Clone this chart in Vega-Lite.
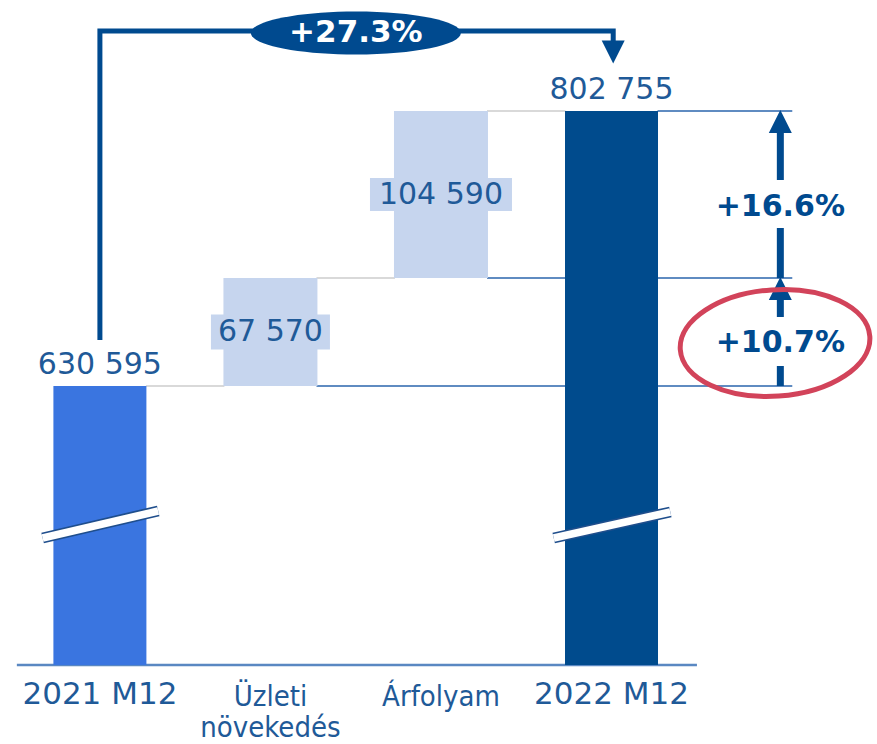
{
  "$schema": "https://vega.github.io/schema/vega-lite/v6.json",
  "width": 877,
  "height": 744,
  "autosize": {"type": "none"},
  "padding": 0,
  "background": "white",
  "config": {
    "view": {"stroke": null},
    "locale": {"number": {"decimal": ",", "thousands": " ", "grouping": [3], "currency": ["", ""]}},
    "text": {"font": "DejaVu Sans"}
  },
  "datasets": {
    "totals": [
      {"cat": "2021 M12", "i": 1, "v": 630595},
      {"cat": "2022 M12", "i": 4, "v": 802755}
    ],
    "deltas": [
      {"cat": "Üzleti\nnövekedés", "i": 2, "v": 630595, "v2": 698165, "delta": 67570},
      {"cat": "Árfolyam", "i": 3, "v": 698165, "v2": 802755, "delta": 104590}
    ],
    "links": [
      {"kind": "step", "i": 1.27, "i2": 1.73, "v": 630595},
      {"kind": "step", "i": 2.27, "i2": 2.73, "v": 698165},
      {"kind": "step", "i": 3.27, "i2": 3.73, "v": 802755},
      {"kind": "ref", "i": 2.27, "i2": 5.06, "v": 630595},
      {"kind": "ref", "i": 3.27, "i2": 5.06, "v": 698165},
      {"kind": "ref", "i": 4.27, "i2": 5.06, "v": 802755}
    ],
    "breaks": [
      {"i": 0.664, "i2": 1.342, "v": 535434, "v2": 552339},
      {"i": 3.661, "i2": 4.345, "v": 535434, "v2": 551713}
    ],
    "bracket": [
      {"o": 1, "i": 1, "v": 659392},
      {"o": 2, "i": 1, "v": 852838},
      {"o": 3, "i": 4.01, "v": 852838},
      {"o": 4, "i": 4.01, "v": 844500}
    ],
    "shafts": [
      {"i": 4.99, "v": 630595, "v2": 643115},
      {"i": 4.99, "v": 673791, "v2": 687000},
      {"i": 4.99, "v": 698165, "v2": 729508},
      {"i": 4.99, "v": 759558, "v2": 791000}
    ],
    "heads": [
      {"dir": "up", "i": 4.99, "v": 796182},
      {"dir": "up", "i": 4.99, "v": 691633},
      {"dir": "down", "i": 4.01, "v": 839691}
    ],
    "pcts": [
      {"i": 4.99, "v": 742655, "t": "+16.6%"},
      {"i": 4.99, "v": 657510, "t": "+10.7%"}
    ],
    "growth": [{"i": 2.501, "v": 851586, "t": "+27.3%"}],
    "circle": [{"i": 4.959, "v": 657510}]
  },
  "layer": [
    {
      "data": {"values": [{"i": 0.513, "i2": 4.501, "v": 455930}]},
      "mark": {"type": "rule", "color": "#5a88c2", "strokeWidth": 2.5},
      "encoding": {
        "x": {"field": "i", "type": "quantitative", "scale": {"domain": [0.4435, 5.5275], "nice": false, "zero": false}, "axis": null},
        "x2": {"field": "i2"},
        "y": {"field": "v", "type": "quantitative", "scale": {"domain": [406473, 872245], "nice": false, "zero": false}, "axis": null}
      }
    },
    {
      "data": {"name": "links"},
      "transform": [{"filter": "datum.kind === 'step'"}],
      "mark": {"type": "rule", "color": "#d9d9d9", "strokeWidth": 2},
      "encoding": {
        "x": {"field": "i", "type": "quantitative", "scale": {"domain": [0.4435, 5.5275], "nice": false, "zero": false}, "axis": null},
        "x2": {"field": "i2"},
        "y": {"field": "v", "type": "quantitative", "scale": {"domain": [406473, 872245], "nice": false, "zero": false}, "axis": null}
      }
    },
    {
      "data": {"name": "links"},
      "transform": [{"filter": "datum.kind === 'ref'"}],
      "mark": {"type": "rule", "color": "#2a65ad", "strokeWidth": 1.6},
      "encoding": {
        "x": {"field": "i", "type": "quantitative", "scale": {"domain": [0.4435, 5.5275], "nice": false, "zero": false}, "axis": null},
        "x2": {"field": "i2"},
        "y": {"field": "v", "type": "quantitative", "scale": {"domain": [406473, 872245], "nice": false, "zero": false}, "axis": null}
      }
    },
    {
      "data": {"name": "deltas"},
      "mark": {"type": "bar", "width": 94, "color": "#c6d5ee"},
      "encoding": {
        "x": {"field": "i", "type": "quantitative", "scale": {"domain": [0.4435, 5.5275], "nice": false, "zero": false}, "axis": null},
        "y": {"field": "v", "type": "quantitative", "scale": {"domain": [406473, 872245], "nice": false, "zero": false}, "axis": null},
        "y2": {"field": "v2"}
      }
    },
    {
      "data": {"name": "totals"},
      "mark": {"type": "bar", "width": 93},
      "encoding": {
        "x": {"field": "i", "type": "quantitative", "scale": {"domain": [0.4435, 5.5275], "nice": false, "zero": false}, "axis": null},
        "y": {"field": "v", "type": "quantitative", "scale": {"domain": [406473, 872245], "nice": false, "zero": false}, "axis": null},
        "y2": {"datum": 455930},
        "color": {"field": "cat", "type": "nominal", "scale": {"domain": ["2021 M12", "2022 M12"], "range": ["#3a75e0", "#004b8d"]}, "legend": null}
      }
    },
    {
      "data": {"name": "breaks"},
      "mark": {"type": "rule", "color": "#1f4e8c", "strokeWidth": 11},
      "encoding": {
        "x": {"field": "i", "type": "quantitative", "scale": {"domain": [0.4435, 5.5275], "nice": false, "zero": false}, "axis": null},
        "x2": {"field": "i2"},
        "y": {"field": "v", "type": "quantitative", "scale": {"domain": [406473, 872245], "nice": false, "zero": false}, "axis": null},
        "y2": {"field": "v2"}
      }
    },
    {
      "data": {"name": "breaks"},
      "mark": {"type": "rule", "color": "white", "strokeWidth": 7.5},
      "encoding": {
        "x": {"field": "i", "type": "quantitative", "scale": {"domain": [0.4435, 5.5275], "nice": false, "zero": false}, "axis": null},
        "x2": {"field": "i2"},
        "y": {"field": "v", "type": "quantitative", "scale": {"domain": [406473, 872245], "nice": false, "zero": false}, "axis": null},
        "y2": {"field": "v2"}
      }
    },
    {
      "data": {"name": "deltas"},
      "transform": [
        {"fold": ["v", "v2"], "as": ["k", "val"]},
        {"aggregate": [{"op": "mean", "field": "val", "as": "mid"}], "groupby": ["i", "delta"]}
      ],
      "encoding": {
        "x": {"field": "i", "type": "quantitative", "scale": {"domain": [0.4435, 5.5275], "nice": false, "zero": false}, "axis": null},
        "y": {"field": "mid", "type": "quantitative", "scale": {"domain": [406473, 872245], "nice": false, "zero": false}, "axis": null}
      },
      "layer": [
        {
          "transform": [{"filter": "datum.delta === 67570"}],
          "mark": {"type": "point", "filled": true, "opacity": 1, "color": "#c6d5ee", "strokeWidth": 0, "size": 14161, "shape": "M-1,-0.294L1,-0.294L1,0.294L-1,0.294Z"}
        },
        {
          "transform": [{"filter": "datum.delta === 104590"}],
          "mark": {"type": "point", "filled": true, "opacity": 1, "color": "#c6d5ee", "strokeWidth": 0, "size": 20164, "shape": "M-1,-0.232L1,-0.232L1,0.232L-1,0.232Z"}
        },
        {
          "mark": {"type": "text", "fontSize": 30, "color": "#1f5a98", "baseline": "middle", "align": "center"},
          "encoding": {"text": {"field": "delta", "type": "quantitative", "format": ",d"}}
        }
      ]
    },
    {
      "data": {"name": "totals"},
      "mark": {"type": "text", "fontSize": 30, "color": "#1f5a98", "baseline": "middle", "align": "center", "dy": -21},
      "encoding": {
        "x": {"field": "i", "type": "quantitative", "scale": {"domain": [0.4435, 5.5275], "nice": false, "zero": false}, "axis": null},
        "y": {"field": "v", "type": "quantitative", "scale": {"domain": [406473, 872245], "nice": false, "zero": false}, "axis": null},
        "text": {"field": "v", "type": "quantitative", "format": ",d"}
      }
    },
    {
      "data": {"name": "totals"},
      "mark": {"type": "text", "fontSize": 31, "color": "#1f5a98", "baseline": "alphabetic", "align": "center", "dy": 39},
      "encoding": {
        "x": {"field": "i", "type": "quantitative", "scale": {"domain": [0.4435, 5.5275], "nice": false, "zero": false}, "axis": null},
        "y": {"datum": 455930, "type": "quantitative", "scale": {"domain": [406473, 872245], "nice": false, "zero": false}, "axis": null},
        "text": {"field": "cat", "type": "nominal"}
      }
    },
    {
      "data": {"name": "deltas"},
      "mark": {"type": "text", "font": "DejaVu Sans Condensed, Liberation Sans Narrow, DejaVu Sans", "fontSize": 29, "color": "#1f5a98", "baseline": "alphabetic", "align": "center", "dy": 41, "lineBreak": "\n", "lineHeight": 31},
      "encoding": {
        "x": {"field": "i", "type": "quantitative", "scale": {"domain": [0.4435, 5.5275], "nice": false, "zero": false}, "axis": null},
        "y": {"datum": 455930, "type": "quantitative", "scale": {"domain": [406473, 872245], "nice": false, "zero": false}, "axis": null},
        "text": {"field": "cat", "type": "nominal"}
      }
    },
    {
      "data": {"name": "bracket"},
      "mark": {"type": "line", "color": "#004a8f", "strokeWidth": 5, "strokeJoin": "miter", "strokeCap": "butt"},
      "encoding": {
        "x": {"field": "i", "type": "quantitative", "scale": {"domain": [0.4435, 5.5275], "nice": false, "zero": false}, "axis": null},
        "y": {"field": "v", "type": "quantitative", "scale": {"domain": [406473, 872245], "nice": false, "zero": false}, "axis": null},
        "order": {"field": "o", "type": "quantitative"}
      }
    },
    {
      "data": {"name": "shafts"},
      "mark": {"type": "rule", "color": "#004a8f", "strokeWidth": 7},
      "encoding": {
        "x": {"field": "i", "type": "quantitative", "scale": {"domain": [0.4435, 5.5275], "nice": false, "zero": false}, "axis": null},
        "y": {"field": "v", "type": "quantitative", "scale": {"domain": [406473, 872245], "nice": false, "zero": false}, "axis": null},
        "y2": {"field": "v2"}
      }
    },
    {
      "data": {"name": "heads"},
      "mark": {"type": "point", "filled": true, "opacity": 1, "color": "#004a8f", "strokeWidth": 0, "size": 529},
      "encoding": {
        "x": {"field": "i", "type": "quantitative", "scale": {"domain": [0.4435, 5.5275], "nice": false, "zero": false}, "axis": null},
        "y": {"field": "v", "type": "quantitative", "scale": {"domain": [406473, 872245], "nice": false, "zero": false}, "axis": null},
        "shape": {"field": "dir", "type": "nominal", "scale": {"domain": ["up", "down"], "range": ["M0,-1L1,1L-1,1Z", "M0,1L1,-1L-1,-1Z"]}, "legend": null}
      }
    },
    {
      "data": {"name": "pcts"},
      "mark": {"type": "text", "fontSize": 30, "fontWeight": "bold", "color": "#004a8f", "baseline": "middle", "align": "center"},
      "encoding": {
        "x": {"field": "i", "type": "quantitative", "scale": {"domain": [0.4435, 5.5275], "nice": false, "zero": false}, "axis": null},
        "y": {"field": "v", "type": "quantitative", "scale": {"domain": [406473, 872245], "nice": false, "zero": false}, "axis": null},
        "text": {"field": "t", "type": "nominal"}
      }
    },
    {
      "data": {"name": "growth"},
      "encoding": {
        "x": {"field": "i", "type": "quantitative", "scale": {"domain": [0.4435, 5.5275], "nice": false, "zero": false}, "axis": null},
        "y": {"field": "v", "type": "quantitative", "scale": {"domain": [406473, 872245], "nice": false, "zero": false}, "axis": null}
      },
      "layer": [
        {
          "mark": {"type": "point", "filled": true, "opacity": 1, "color": "#004a8f", "strokeWidth": 0, "size": 44100, "shape": "M-1,0C-1,-0.1132,-0.5523,-0.205,0,-0.205C0.5523,-0.205,1,-0.1132,1,0C1,0.1132,0.5523,0.205,0,0.205C-0.5523,0.205,-1,0.1132,-1,0Z"}
        },
        {
          "mark": {"type": "text", "fontSize": 31, "fontWeight": "bold", "color": "white", "baseline": "middle", "align": "center"},
          "encoding": {"text": {"field": "t", "type": "nominal"}}
        }
      ]
    },
    {
      "data": {"name": "circle"},
      "mark": {"type": "point", "filled": false, "opacity": 1, "color": "#d2435a", "strokeWidth": 5, "size": 36100, "angle": -4, "shape": "M-1,0C-1,-0.3093,-0.5523,-0.56,0,-0.56C0.5523,-0.56,1,-0.3093,1,0C1,0.3093,0.5523,0.56,0,0.56C-0.5523,0.56,-1,0.3093,-1,0Z"},
      "encoding": {
        "x": {"field": "i", "type": "quantitative", "scale": {"domain": [0.4435, 5.5275], "nice": false, "zero": false}, "axis": null},
        "y": {"field": "v", "type": "quantitative", "scale": {"domain": [406473, 872245], "nice": false, "zero": false}, "axis": null}
      }
    }
  ]
}
